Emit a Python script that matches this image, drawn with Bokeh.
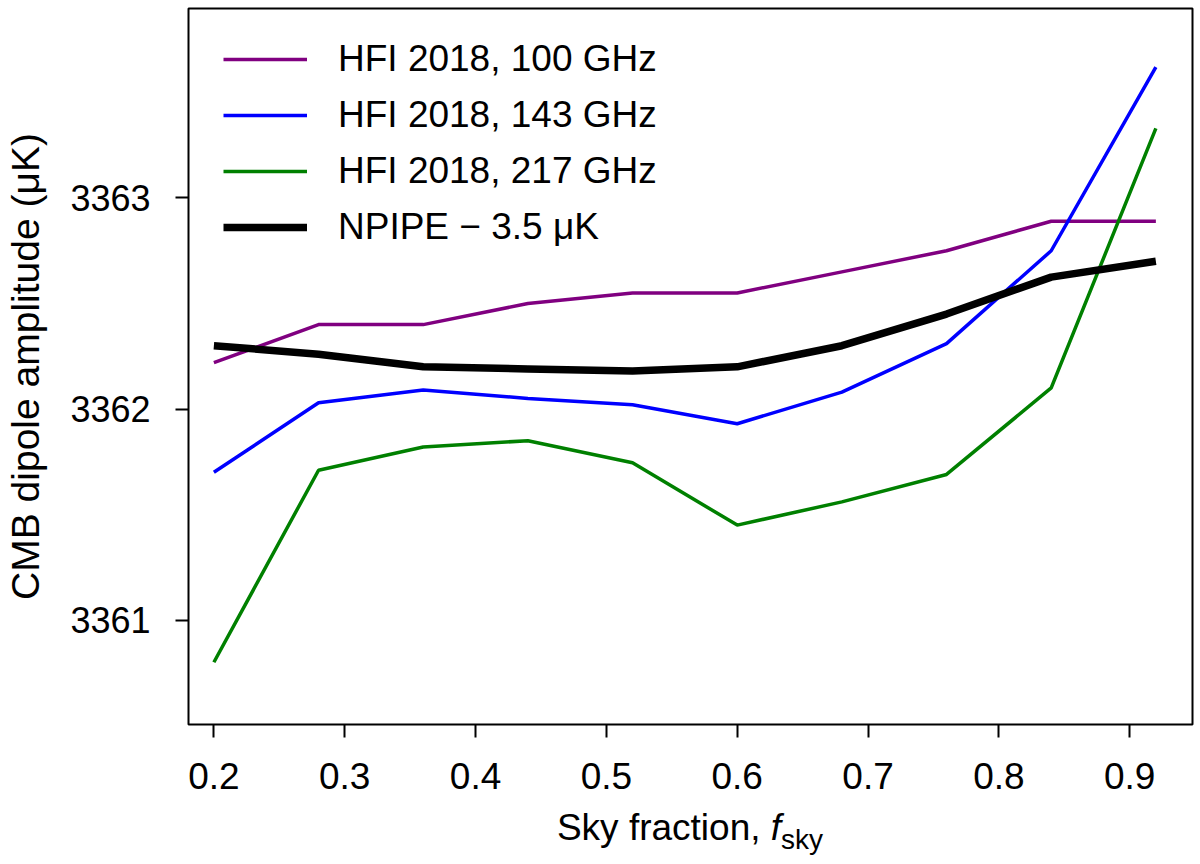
from bokeh.plotting import figure
from bokeh.models import FixedTicker, Legend, LegendItem, Div
from bokeh.layouts import column
from bokeh.embed import file_html
from bokeh.resources import INLINE

# values
fsky = [0.20, 0.28, 0.36, 0.44, 0.52, 0.60, 0.68, 0.76, 0.84, 0.92]
hfi_100 = [3362.22, 3362.40, 3362.40, 3362.50, 3362.55, 3362.55, 3362.65, 3362.75, 3362.89, 3362.89]
hfi_143 = [3361.70, 3362.03, 3362.09, 3362.05, 3362.02, 3361.93, 3362.08, 3362.31, 3362.75, 3363.62]
hfi_217 = [3360.80, 3361.71, 3361.82, 3361.85, 3361.745, 3361.45, 3361.56, 3361.69, 3362.10, 3363.33]
npipe_shifted = [3362.30, 3362.26, 3362.20, 3362.19, 3362.18, 3362.20, 3362.30, 3362.45, 3362.625, 3362.70]

x_ticks = [0.2, 0.3, 0.4, 0.5, 0.6, 0.7, 0.8, 0.9]
y_ticks = [3361, 3362, 3363]

series_labels = ["HFI 2018, 100 GHz", "HFI 2018, 143 GHz", "HFI 2018, 217 GHz", "NPIPE \u2212 3.5 \u03bcK"]

FONT = "Liberation Sans"

p = figure(
    width=1200, height=807,
    x_range=(0.1806, 0.9480), y_range=(3360.505, 3363.898),
    output_backend="svg", toolbar_location=None,
    min_border_left=188, min_border_right=8, min_border_top=8, min_border_bottom=83,
)
p.background_fill_color = "white"
p.border_fill_color = "white"
p.grid.grid_line_color = None
p.outline_line_color = "black"
p.outline_line_width = 2

r100 = p.line(fsky, hfi_100, line_color="#800080", line_width=3.5)
r143 = p.line(fsky, hfi_143, line_color="#0000ff", line_width=3.5)
r217 = p.line(fsky, hfi_217, line_color="#008000", line_width=3.5)
rnp = p.line(fsky, npipe_shifted, line_color="black", line_width=7.5)

# axes
p.xaxis.ticker = FixedTicker(ticks=x_ticks)
p.yaxis.ticker = FixedTicker(ticks=y_ticks)
for ax in (p.xaxis, p.yaxis):
    ax.axis_line_color = None
    ax.major_tick_in = 0
    ax.major_tick_out = 13
    ax.major_tick_line_width = 2
    ax.minor_tick_line_color = None
    ax.major_label_text_font = FONT
    ax.major_label_text_font_size = "36px"
    ax.major_label_text_color = "black"
p.xaxis.major_label_text_font_size = "37px"
p.xaxis.major_label_standoff = 25
p.yaxis.major_label_standoff = 25

p.yaxis.axis_label = "CMB dipole amplitude (\u03bcK)"
p.yaxis.axis_label_text_font = FONT
p.yaxis.axis_label_text_font_size = "39px"
p.yaxis.axis_label_text_font_style = "normal"
p.yaxis.axis_label_text_color = "black"
p.yaxis.axis_label_standoff = 20

legend = Legend(items=[
    LegendItem(label=series_labels[0], renderers=[r100]),
    LegendItem(label=series_labels[1], renderers=[r143]),
    LegendItem(label=series_labels[2], renderers=[r217]),
    LegendItem(label=series_labels[3], renderers=[rnp]),
])
legend.location = (35, 476)
legend.margin = 0
legend.padding = 0
legend.spacing = 14
legend.glyph_width = 84
legend.glyph_height = 42
legend.label_height = 42
legend.label_standoff = 31
legend.label_text_font = FONT
legend.label_text_font_size = "37px"
legend.label_text_color = "black"
legend.border_line_color = None
legend.background_fill_alpha = 0
p.add_layout(legend)

# x axis label with a subscript, set as html text under the plot
xlabel = Div(
    text=(
        '<div style="width:1004px;margin-left:188px;text-align:center;'
        "font-family:'Liberation Sans';font-size:37px;line-height:42px;"
        'color:black;white-space:nowrap">Sky fraction, <i>f</i>'
        '<span style="position:relative;top:9px;font-size:28px">sky</span></div>'
    ),
    width=1200, height=57, margin=0,
)

layout = column(p, xlabel, spacing=0)

open("out.html", "w").write(file_html(layout, INLINE))
